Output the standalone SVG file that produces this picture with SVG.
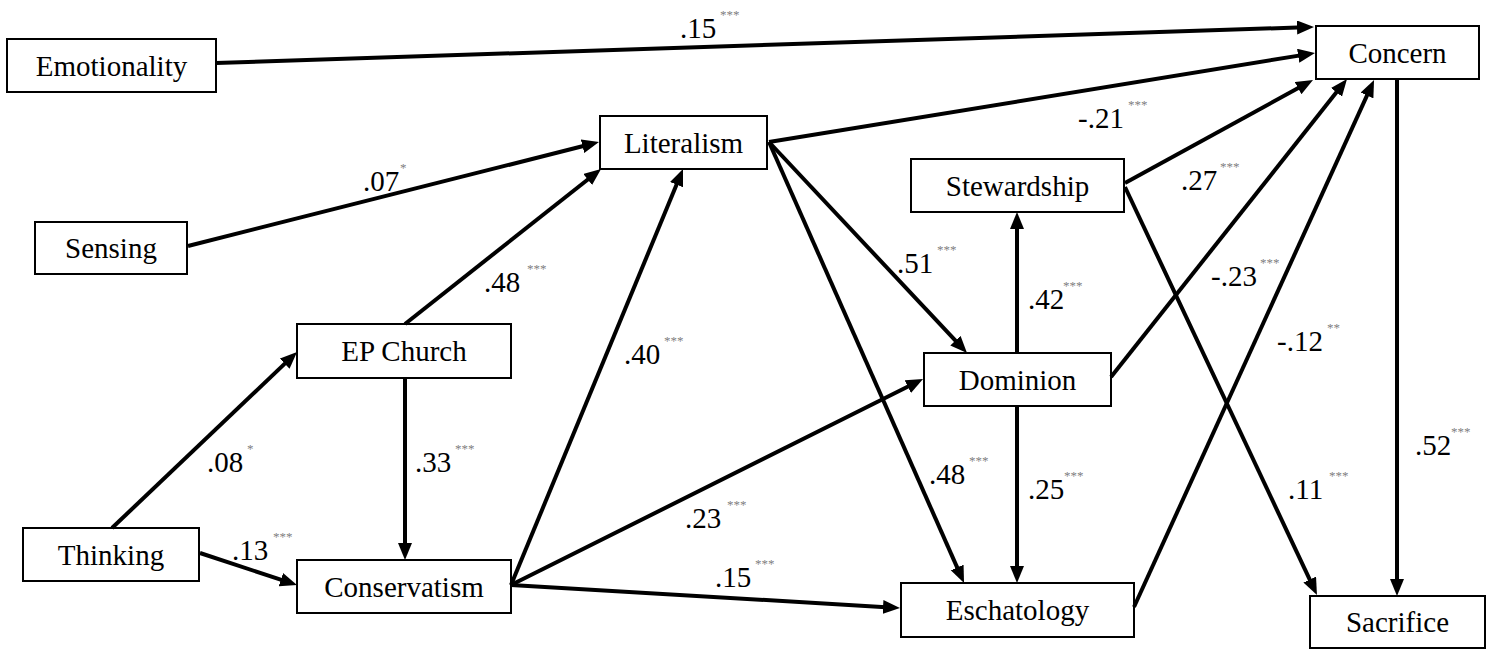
<svg xmlns="http://www.w3.org/2000/svg" width="1492" height="649" viewBox="0 0 1492 649">
<style>
.box{fill:#fff;stroke:#000;stroke-width:2}
text{font-family:'Liberation Serif','DejaVu Serif',serif}
.nt{font-size:29px;fill:#000;text-anchor:middle}
.lb{font-size:29px;fill:#000}
.st{font-size:13px;fill:#808080}
.cn line{stroke:#000;stroke-width:4;marker-end:url(#ah)}
</style>
<defs>
<marker id="ah" markerUnits="userSpaceOnUse" markerWidth="18" markerHeight="15" refX="7" refY="7" orient="auto">
<path d="M0,0 L17,7 L0,14 z" fill="#000"/>
</marker>
</defs>
<rect width="1492" height="649" fill="#fff"/>
<g id="nodes" font-family="Liberation Serif, serif">
<g id="n-emotionality"><rect class="box" x="7" y="39" width="209" height="53"/><text class="nt" x="111.5" y="75.5">Emotionality</text></g>
<g id="n-concern"><rect class="box" x="1316" y="26" width="163" height="53"/><text class="nt" x="1397.5" y="62.5">Concern</text></g>
<g id="n-literalism"><rect class="box" x="600" y="116" width="167" height="53"/><text class="nt" x="683.5" y="152.5">Literalism</text></g>
<g id="n-stewardship"><rect class="box" x="911" y="159" width="213" height="53"/><text class="nt" x="1017.5" y="195.5">Stewardship</text></g>
<g id="n-sensing"><rect class="box" x="35" y="222" width="152" height="52"/><text class="nt" x="111" y="258">Sensing</text></g>
<g id="n-epchurch"><rect class="box" x="297" y="324" width="214" height="54"/><text class="nt" x="404" y="361">EP Church</text></g>
<g id="n-dominion"><rect class="box" x="924" y="353" width="187" height="53"/><text class="nt" x="1017.5" y="389.5">Dominion</text></g>
<g id="n-thinking"><rect class="box" x="23" y="528" width="176" height="53"/><text class="nt" x="111" y="564.5">Thinking</text></g>
<g id="n-conservatism"><rect class="box" x="297" y="560" width="214" height="53"/><text class="nt" x="404" y="596.5">Conservatism</text></g>
<g id="n-eschatology"><rect class="box" x="901" y="583" width="233" height="54"/><text class="nt" x="1017.5" y="620">Eschatology</text></g>
<g id="n-sacrifice"><rect class="box" x="1310" y="596" width="175" height="52"/><text class="nt" x="1397.5" y="632">Sacrifice</text></g>
</g>
<g id="connectors" class="cn">
<line x1="216" y1="63" x2="1304" y2="27.3"/>
<line x1="769" y1="142" x2="1305.1" y2="54.6"/>
<line x1="188" y1="246" x2="589.3" y2="144.5"/>
<line x1="405" y1="324" x2="593.2" y2="175.2"/>
<line x1="112" y1="528" x2="289.8" y2="358.9"/>
<line x1="200" y1="553" x2="287.5" y2="581.9"/>
<line x1="405" y1="378" x2="405" y2="550"/>
<line x1="511" y1="585" x2="679.2" y2="178.2"/>
<line x1="511" y1="585" x2="914.1" y2="383.5"/>
<line x1="511" y1="585" x2="890" y2="607.4"/>
<line x1="769" y1="142" x2="960.2" y2="345.7"/>
<line x1="769" y1="142" x2="960" y2="573.9"/>
<line x1="1017" y1="353" x2="1017" y2="222"/>
<line x1="1017" y1="406" x2="1017" y2="573"/>
<line x1="1125" y1="183" x2="1304.2" y2="84.8"/>
<line x1="1111" y1="377" x2="1340.8" y2="86.8"/>
<line x1="1134" y1="607" x2="1369.9" y2="89.1"/>
<line x1="1125" y1="187" x2="1312.7" y2="585.9"/>
<line x1="1397" y1="79" x2="1397" y2="586"/>
</g>
<g id="labels" font-family="Liberation Serif, serif">
<text class="lb" x="680" y="38">.15</text><text class="st" x="720" y="19">***</text>
<text class="lb" x="363" y="191">.07</text><text class="st" x="400" y="172">*</text>
<text class="lb" x="1078" y="128">-.21</text><text class="st" x="1128" y="109">***</text>
<text class="lb" x="1181" y="190">.27</text><text class="st" x="1220" y="171">***</text>
<text class="lb" x="484" y="292">.48</text><text class="st" x="527" y="273">***</text>
<text class="lb" x="624" y="364">.40</text><text class="st" x="664" y="345">***</text>
<text class="lb" x="897" y="273">.51</text><text class="st" x="937" y="254">***</text>
<text class="lb" x="1028" y="309">.42</text><text class="st" x="1063" y="290">***</text>
<text class="lb" x="1211" y="286">-.23</text><text class="st" x="1260" y="267">***</text>
<text class="lb" x="1277" y="351">-.12</text><text class="st" x="1327" y="332">**</text>
<text class="lb" x="1415" y="455">.52</text><text class="st" x="1451" y="436">***</text>
<text class="lb" x="207" y="472">.08</text><text class="st" x="247" y="453">*</text>
<text class="lb" x="415" y="472">.33</text><text class="st" x="455" y="453">***</text>
<text class="lb" x="232" y="560">.13</text><text class="st" x="273" y="541">***</text>
<text class="lb" x="685" y="528">.23</text><text class="st" x="727" y="509">***</text>
<text class="lb" x="715" y="587">.15</text><text class="st" x="755" y="568">***</text>
<text class="lb" x="929" y="484">.48</text><text class="st" x="969" y="465">***</text>
<text class="lb" x="1028" y="499">.25</text><text class="st" x="1064" y="480">***</text>
<text class="lb" x="1288" y="499">.11</text><text class="st" x="1329" y="480">***</text>
</g>
</svg>
